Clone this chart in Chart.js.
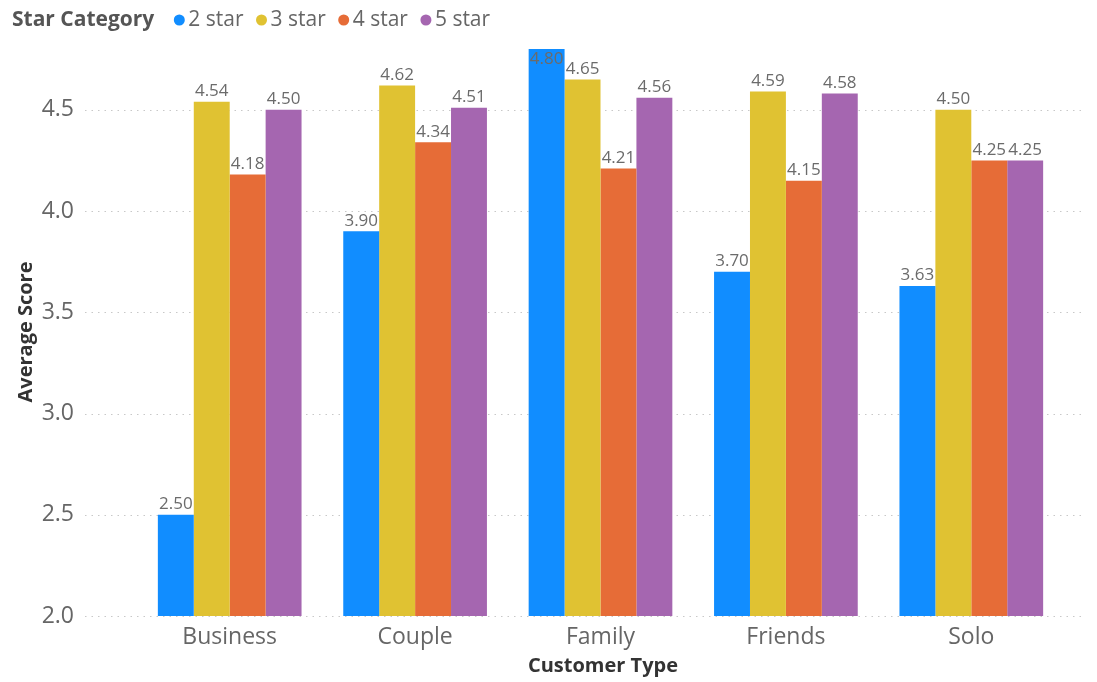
<!DOCTYPE html>
<html>
<head>
<meta charset="utf-8">
<script src="https://cdn.jsdelivr.net/npm/chart.js@4.4.1/dist/chart.umd.min.js"></script>
<style>
  html, body { margin:0; padding:0; background:#fff; }
  #wrap { width:1097px; height:682px; position:relative; }
</style>
</head>
<body>
<div id="wrap"><canvas id="scoreChart" width="1097" height="682"></canvas></div>
<script>
/* ------------------ Data ------------------ */
const customerTypes = ["Business","Couple","Family","Friends","Solo"];
const seriesNames = ["2 star","3 star","4 star","5 star"];
const star2 = [2.50, 3.90, 4.80, 3.70, 3.63];
const star3 = [4.54, 4.62, 4.65, 4.59, 4.50];
const star4 = [4.18, 4.34, 4.21, 4.15, 4.25];
const star5 = [4.50, 4.51, 4.56, 4.58, 4.25];
const yTicks = [2.0, 2.5, 3.0, 3.5, 4.0, 4.5];

const colors = ["#118DFF","#E0C232","#E66C37","#A566B0"];
const FONT = "'Open Sans', 'Noto Sans', sans-serif";

/* ------------------ Plot layout ------------------ */
const AREA = { left:137, right:1064, top:45, bottom:616 };
const GRID_LEFT = 85, GRID_RIGHT = 1085;

// drop the edge padding Chart.js reserves for tick labels
function noEdgePadding(s){
  s.paddingTop = 0; s.paddingBottom = 0; s.paddingLeft = 0; s.paddingRight = 0;
}

/* ------------------ Plugins ------------------ */
// dotted horizontal gridlines spanning wider than the bar area
const dottedGrid = {
  id:'dottedGrid',
  beforeDatasetsDraw(chart){
    const c = chart.ctx, y = chart.scales.y;
    c.save();
    c.strokeStyle = "#c8c8c8";
    c.lineWidth = 1;
    c.setLineDash([1.5,5]);
    yTicks.forEach(v => {
      const py = Math.round(y.getPixelForValue(v)) + 0.5;
      c.beginPath(); c.moveTo(GRID_LEFT, py); c.lineTo(GRID_RIGHT, py); c.stroke();
    });
    c.restore();
  }
};

// value labels above each bar (inside when there is no room)
const valueLabels = {
  id:'valueLabels',
  afterDatasetsDraw(chart){
    const c = chart.ctx;
    c.save();
    c.font = "17px " + FONT;
    c.fillStyle = "#6b6b6b";
    c.textAlign = "center";
    chart.data.datasets.forEach((ds, di) => {
      chart.getDatasetMeta(di).data.forEach((bar, i) => {
        const txt = ds.data[i].toFixed(2);
        if (bar.y - 22 < chart.chartArea.top - 4) {
          c.textBaseline = "top";
          c.fillText(txt, bar.x, bar.y + 2);
        } else {
          c.textBaseline = "bottom";
          c.fillText(txt, bar.x, bar.y - 2);
        }
      });
    });
    c.restore();
  }
};

// legend row and axis titles
const chrome = {
  id:'chrome',
  afterDraw(chart){
    const c = chart.ctx;
    c.save();
    c.textBaseline = "middle";
    c.textAlign = "left";
    c.font = "bold 21px " + FONT;
    c.fillStyle = "#555";
    c.fillText("Star Category", 12, 20);
    let x = 12 + c.measureText("Star Category").width + 25;
    c.font = "21px " + FONT;
    seriesNames.forEach((name, i) => {
      c.fillStyle = colors[i];
      c.beginPath(); c.arc(x, 20, 5.5, 0, 2*Math.PI); c.fill();
      c.fillStyle = "#666";
      c.fillText(name, x + 9, 20);
      x += 9 + c.measureText(name).width + 18;
    });

    c.font = "bold 20px " + FONT;
    c.fillStyle = "#333";
    c.textAlign = "center";
    c.fillText("Customer Type", 603, 666);
    c.translate(26, 332);
    c.rotate(-Math.PI/2);
    c.fillText("Average Score", 0, 0);
    c.restore();
  }
};

/* ------------------ Chart ------------------ */
const ctx = document.getElementById('scoreChart').getContext('2d');
const scoreChart = new Chart(ctx, {
  type:'bar',
  data:{
    labels: customerTypes,
    datasets:[star2, star3, star4, star5].map((d, i) => ({
      label: seriesNames[i], data: d, backgroundColor: colors[i],
      borderWidth: 0, categoryPercentage: 0.775, barPercentage: 1.0
    }))
  },
  options:{
    responsive:false,
    animation:false,
    layout:{ padding:{ top:AREA.top, right:1097-AREA.right, left:0, bottom:0 } },
    plugins:{ legend:{ display:false }, tooltip:{ enabled:false } },
    scales:{
      x:{
        grid:{ display:false, drawTicks:false },
        border:{ display:false },
        ticks:{ color:"#666", font:{ family:FONT, size:23 }, padding:8 },
        afterFit(s){ s.height = 682 - AREA.bottom; noEdgePadding(s); }
      },
      y:{
        min:2, max:4.82,
        grid:{ display:false, drawTicks:false },
        border:{ display:false },
        afterBuildTicks(s){ s.ticks = yTicks.map(v => ({ value:v })); },
        ticks:{ color:"#666", font:{ family:FONT, size:23 }, padding:AREA.left - 74,
                callback:v => v.toFixed(1) },
        afterFit(s){ s.width = AREA.left; noEdgePadding(s); }
      }
    }
  },
  plugins:[dottedGrid, valueLabels, chrome]
});
</script>
</body>
</html>
